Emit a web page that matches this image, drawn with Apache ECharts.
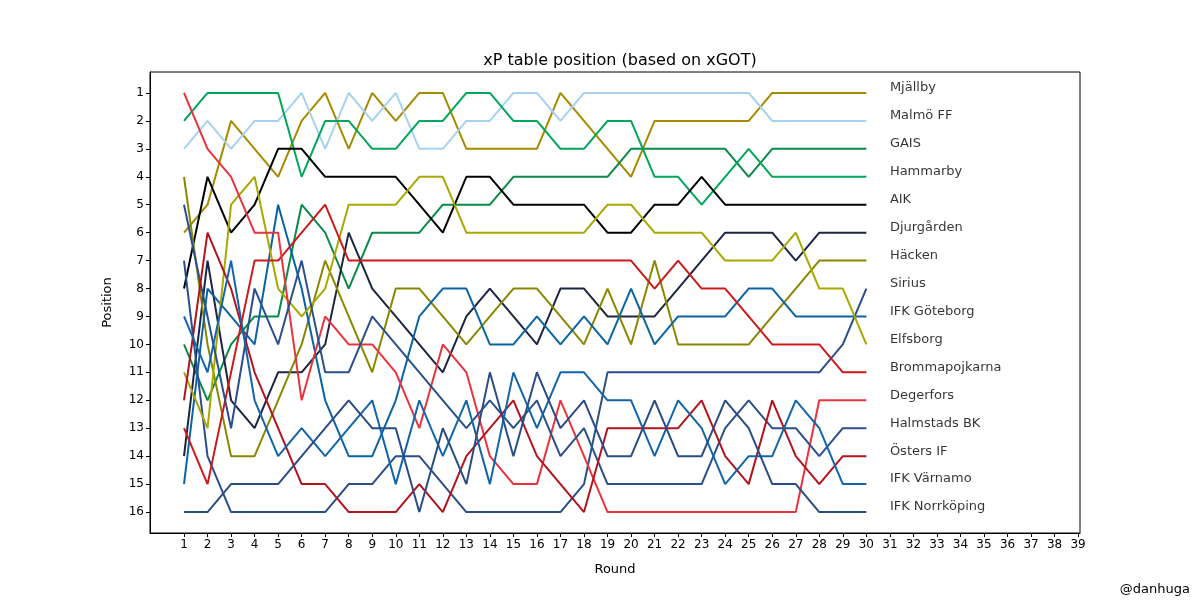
<!DOCTYPE html>
<html><head><meta charset="utf-8">
<script src="https://cdn.jsdelivr.net/npm/echarts@6/dist/echarts.min.js"></script>
<style>html,body{margin:0;padding:0;background:#fff}#c{width:1200px;height:600px}</style>
</head><body><div id="c"></div>
<script>
const rounds = Array.from({length:30},(_,i)=>i+1);
const xTicks = Array.from({length:39},(_,i)=>i+1);
const yTicks = Array.from({length:16},(_,i)=>i+1);
const teams = ["Mjällby","Malmö FF","GAIS","Hammarby","AIK","Djurgården","Häcken","Sirius","IFK Göteborg","Elfsborg","Brommapojkarna","Degerfors","Halmstads BK","Östers IF","IFK Värnamo","IFK Norrköping"];
const colors = ["#a68a00","#a6d2f0","#0a8a4a","#00a65a","#000000","#1c2541","#888800","#2b4d8c","#0a64a4","#a8a800","#cc1a1a","#e8343c","#2a4f8a","#b0141e","#1265a8","#2b4b85"];
const mjallby   = [6,5,2,3,4,2,1,3,1,2,1,1,3,3,3,3,1,2,3,4,2,2,2,2,2,1,1,1,1,1];
const malmo     = [3,2,3,2,2,1,3,1,2,1,3,3,2,2,1,1,2,1,1,1,1,1,1,1,1,2,2,2,2,2];
const gais      = [10,12,10,9,9,5,6,8,6,6,6,5,5,5,4,4,4,4,4,3,3,3,3,3,4,3,3,3,3,3];
const hammarby  = [2,1,1,1,1,4,2,2,3,3,2,2,1,1,2,2,3,3,2,2,4,4,5,4,3,4,4,4,4,4];
const aik       = [8,4,6,5,3,3,4,4,4,4,5,6,4,4,5,5,5,5,6,6,5,5,4,5,5,5,5,5,5,5];
const djurgarden= [14,7,12,13,11,11,10,6,8,9,10,11,9,8,9,10,8,8,9,9,9,8,7,6,6,6,7,6,6,6];
const hacken    = [4,10,14,14,12,10,7,9,11,8,8,9,10,9,8,8,9,10,8,10,7,10,10,10,10,9,8,7,7,7];
const sirius    = [7,14,16,16,16,16,16,15,15,14,14,15,16,16,16,16,16,15,11,11,11,11,11,11,11,11,11,11,10,8];
const goteborg  = [15,8,9,10,5,8,12,14,14,12,9,8,8,10,10,9,10,9,10,8,10,9,9,9,8,8,9,9,9,9];
const elfsborg  = [11,13,5,4,8,9,8,5,5,5,4,4,6,6,6,6,6,6,5,5,6,6,6,7,7,7,6,8,8,10];
const bromma    = [13,15,11,7,7,6,5,7,7,7,7,7,7,7,7,7,7,7,7,7,8,7,8,8,9,10,10,10,11,11];
const degerfors = [1,3,4,6,6,12,9,10,10,11,13,10,11,14,15,15,12,14,16,16,16,16,16,16,16,16,16,12,12,12];
const halmstad  = [5,9,13,8,10,7,11,11,9,10,11,12,13,12,13,12,14,13,15,15,15,15,15,13,12,13,13,14,13,13];
const osters    = [12,6,8,11,13,15,15,16,16,16,15,16,14,13,12,14,15,16,13,13,13,13,12,14,15,12,14,15,14,14];
const varnamo   = [9,11,7,12,14,13,14,13,12,15,12,14,12,15,11,13,11,11,12,12,14,12,13,15,14,14,12,13,15,15];
const norrkoping= [16,16,15,15,15,14,13,12,13,13,16,13,15,11,14,11,13,12,14,14,12,14,14,12,13,15,15,16,16,16];
const positions = [mjallby,malmo,gais,hammarby,aik,djurgarden,hacken,sirius,goteborg,elfsborg,bromma,degerfors,halmstad,osters,varnamo,norrkoping];
const labelX = 31;

const font = "DejaVu Sans";
const series = teams.map((t,i)=>({
  name:t, type:'line', data: rounds.map((r,j)=>[r, positions[i][j]]),
  showSymbol:false, symbol:'none', animation:false,
  lineStyle:{width:2, color:colors[i]}, itemStyle:{color:colors[i]}, z:2
}));
series.push({
  type:'scatter', symbolSize:0, animation:false, silent:true,
  data: teams.map((t,i)=>({value:[labelX, positions[i][positions[i].length-1]], name:t})),
  label:{show:true, position:'right', distance:0, offset:[0,-5], formatter:p=>p.name, color:'#000', fontFamily:font, fontSize:13},
  itemStyle:{color:'#000'},
  z:3
});
const chart = echarts.init(document.getElementById('c'), null, {renderer:'canvas'});
chart.setOption({
  animation:false,
  backgroundColor:'#fff',
  title:{text:'xP table position (based on xGOT)', left:615, top:48, textAlign:'center',
    textStyle:{fontFamily:font, fontSize:16, fontWeight:'normal', color:'#000'}},
  grid:{left:150, right:120, top:72, bottom:67, show:true, borderColor:'#000', borderWidth:1},
  xAxis:{type:'value', min:-0.445, max:39.08, name:'Round', nameLocation:'middle', nameGap:30,
    nameTextStyle:{fontFamily:font, fontSize:13, color:'#000'},
    axisLine:{show:true, onZero:false, lineStyle:{color:'#000'}},
    axisTick:{show:true, length:4, customValues:xTicks, lineStyle:{color:'#000'}},
    axisLabel:{customValues:xTicks, fontFamily:font, fontSize:12, color:'#000', margin:6},
    splitLine:{show:false}},
  yAxis:{type:'value', inverse:true, min:0.25, max:16.75, name:'Position', nameLocation:'middle', nameGap:36,
    nameTextStyle:{fontFamily:font, fontSize:13, color:'#000'},
    axisLine:{show:true, onZero:false, lineStyle:{color:'#000'}},
    axisTick:{show:true, length:4, customValues:yTicks, lineStyle:{color:'#000'}},
    axisLabel:{customValues:yTicks, fontFamily:font, fontSize:12, color:'#000', margin:6},
    splitLine:{show:false}},
  graphic:[{type:'text', right:10, bottom:4, style:{text:'@danhuga', fontFamily:font, fontSize:13, fill:'#000'}}],
  series: series
});
</script></body></html>
